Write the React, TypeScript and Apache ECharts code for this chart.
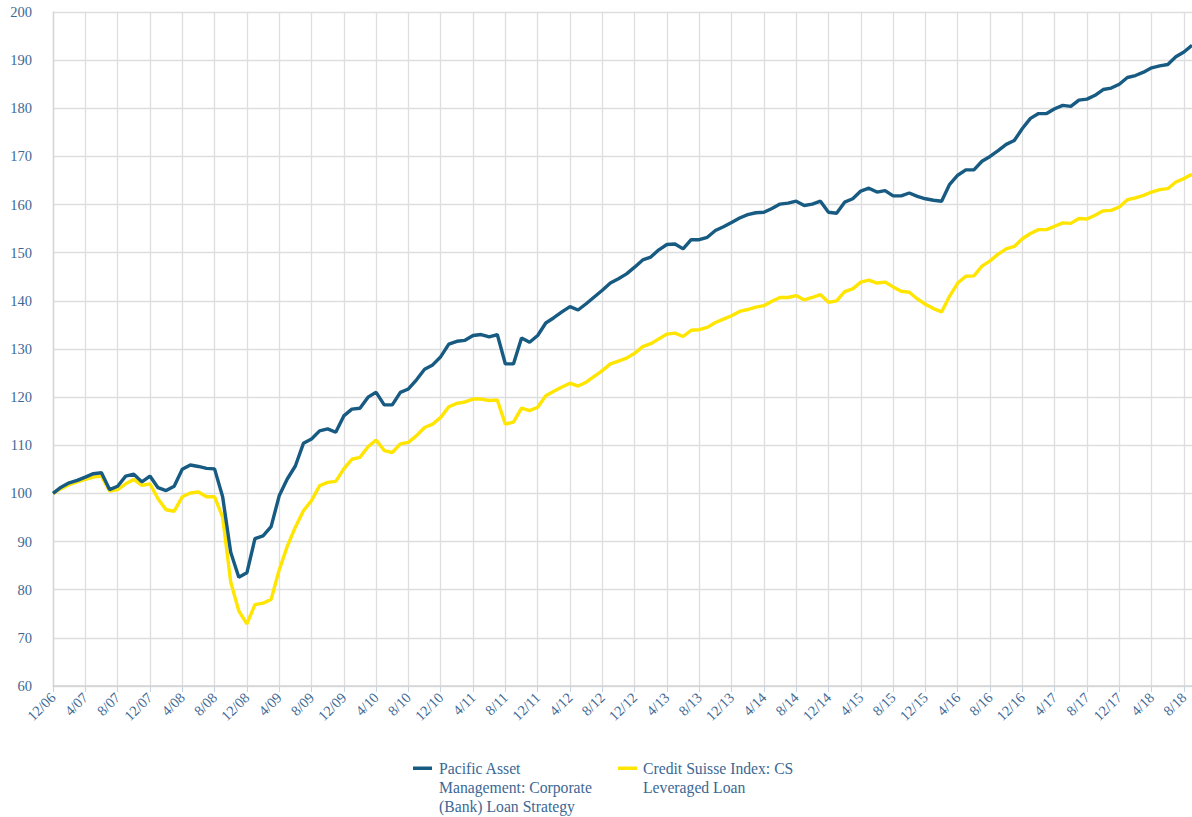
import React, { useEffect, useRef } from "react";
import * as echarts from "echarts";

// Monthly categories 12/06 .. 9/18
const START_MONTH = 12;
const START_YEAR = 6;
const MONTH_COUNT = 142;
const months: string[] = [];
for (let k = 0; k < MONTH_COUNT; k++) {
  const m = ((START_MONTH - 1 + k) % 12) + 1;
  const y = START_YEAR + Math.floor((START_MONTH - 1 + k) / 12);
  months.push(`${m}/${String(y).padStart(2, "0")}`);
}

const seriesNames = [
  "Pacific Asset Management: Corporate (Bank) Loan Strategy",
  "Credit Suisse Index: CS Leveraged Loan",
];

const pacificValues = [
  100.0, 101.3, 102.2, 102.7, 103.4, 104.1, 104.3, 100.8, 101.5, 103.6,
  104.0, 102.4, 103.6, 101.2, 100.6, 101.5, 105.0, 105.9, 105.6, 105.2,
  105.1, 99.3, 87.8, 82.6, 83.5, 90.6, 91.2, 93.1, 99.5, 103.0,
  105.7, 110.4, 111.3, 113.0, 113.4, 112.7, 116.1, 117.5, 117.7, 120.0,
  121.0, 118.4, 118.4, 121.0, 121.7, 123.6, 125.8, 126.7, 128.4, 131.0,
  131.6, 131.8, 132.8, 133.0, 132.5, 133.0, 126.9, 126.9, 132.3, 131.4,
  132.8, 135.4, 136.5, 137.7, 138.8, 138.1, 139.4, 140.8, 142.2, 143.7,
  144.6, 145.6, 147.0, 148.5, 149.1, 150.6, 151.7, 151.8, 150.8, 152.7,
  152.7, 153.2, 154.6, 155.4, 156.3, 157.2, 157.9, 158.3, 158.4, 159.2,
  160.1, 160.3, 160.7, 159.8, 160.1, 160.7, 158.4, 158.2, 160.5, 161.2,
  162.8, 163.4, 162.6, 162.9, 161.8, 161.8, 162.4, 161.7, 161.2, 160.9,
  160.7, 164.2, 166.1, 167.2, 167.2, 169.0, 170.0, 171.2, 172.5, 173.3,
  175.8, 177.9, 178.9, 178.9, 179.9, 180.6, 180.4, 181.7, 181.9, 182.7,
  183.9, 184.2, 185.0, 186.4, 186.8, 187.5, 188.4, 188.8, 189.1, 190.7,
  191.7, 193.1,
];

const creditSuisseValues = [
  100.0, 101.0, 101.8, 102.4, 102.9, 103.4, 103.6, 100.5, 100.8, 102.0,
  102.9, 101.7, 102.0, 98.9, 96.6, 96.3, 99.3, 100.1, 100.3, 99.3,
  99.3, 95.1, 81.6, 75.6, 72.9, 76.9, 77.2, 78.0, 84.1, 89.0,
  93.0, 96.4, 98.5, 101.6, 102.3, 102.5, 105.1, 107.1, 107.5, 109.7,
  111.1, 108.9, 108.5, 110.3, 110.6, 112.0, 113.7, 114.4, 115.8, 118.0,
  118.7, 119.0, 119.6, 119.6, 119.3, 119.4, 114.4, 114.8, 117.7, 117.2,
  117.9, 120.3, 121.2, 122.1, 122.9, 122.3, 123.1, 124.3, 125.5, 126.9,
  127.5, 128.1, 129.1, 130.5, 131.1, 132.1, 133.1, 133.3, 132.6, 133.9,
  134.0, 134.5, 135.5, 136.2, 136.9, 137.8, 138.2, 138.7, 139.0, 139.9,
  140.7, 140.7, 141.1, 140.2, 140.7, 141.3, 139.7, 140.0, 141.9, 142.5,
  143.9, 144.3, 143.7, 143.9, 142.9, 142.0, 141.8, 140.4, 139.3, 138.4,
  137.7, 141.0, 143.7, 145.1, 145.2, 147.2, 148.3, 149.7, 150.8, 151.3,
  152.9, 154.0, 154.8, 154.8, 155.5, 156.2, 156.1, 157.1, 157.0, 157.8,
  158.7, 158.8, 159.5, 161.0, 161.4, 161.9, 162.6, 163.1, 163.3, 164.7,
  165.4, 166.3,
];

const legendLines = [
  "Pacific Asset\nManagement: Corporate\n(Bank) Loan Strategy",
  "Credit Suisse Index: CS\nLeveraged Loan",
];

const BLUE = "#175a82";
const YELLOW = "#ffe500";
const TEXT = "#3c6894";
const GRID = "#dedede";
const FONT = "Liberation Serif";

export default function App() {
  const ref = useRef<HTMLDivElement>(null);
  useEffect(() => {
    if (!ref.current) return;
    const chart = echarts.init(ref.current, undefined, { renderer: "svg" });
    chart.setOption({
      animation: false,
      backgroundColor: "#ffffff",
      textStyle: { fontFamily: FONT },
      grid: { left: 53, right: -2, top: 12, bottom: 131, containLabel: false },
      xAxis: {
        type: "category",
        data: months,
        boundaryGap: false,
        axisLine: { show: true, lineStyle: { color: "#d4d4d4", width: 1.5 } },
        axisTick: {
          show: true,
          interval: 3,
          length: 6,
          lineStyle: { color: "#c6d3e0" },
        },
        axisLabel: {
          interval: 3,
          rotate: 45,
          margin: 9,
          color: TEXT,
          fontSize: 14.5,
          fontFamily: FONT,
        },
        splitLine: {
          show: true,
          interval: 3,
          lineStyle: { color: GRID, width: 1.3 },
        },
      },
      yAxis: {
        type: "value",
        min: 60,
        max: 200,
        interval: 10,
        axisLine: { show: true, lineStyle: { color: "#d4d4d4", width: 1.3 } },
        axisTick: { show: false },
        axisLabel: {
          color: TEXT,
          fontSize: 14.5,
          fontFamily: FONT,
          margin: 21,
        },
        splitLine: { show: true, lineStyle: { color: GRID, width: 1.3 } },
      },
      series: [
        {
          name: seriesNames[0],
          type: "line",
          data: pacificValues,
          showSymbol: false,
          symbol: "none",
          lineStyle: { color: BLUE, width: 3.4 },
          itemStyle: { color: BLUE },
          z: 3,
        },
        {
          name: seriesNames[1],
          type: "line",
          data: creditSuisseValues,
          showSymbol: false,
          symbol: "none",
          lineStyle: { color: YELLOW, width: 3.4 },
          itemStyle: { color: YELLOW },
          z: 2,
        },
      ],
      graphic: [
        {
          type: "rect",
          shape: { x: 413, y: 766.5, width: 19, height: 3.5 },
          style: { fill: BLUE },
        },
        {
          type: "text",
          x: 439,
          y: 758.5,
          style: {
            text: legendLines[0],
            fontSize: 15.7,
            fontFamily: FONT,
            lineHeight: 19.2,
            fill: TEXT,
            verticalAlign: "top",
            align: "left",
          },
        },
        {
          type: "rect",
          shape: { x: 618, y: 766.5, width: 19, height: 3.5 },
          style: { fill: YELLOW },
        },
        {
          type: "text",
          x: 643,
          y: 758.5,
          style: {
            text: legendLines[1],
            fontSize: 15.7,
            fontFamily: FONT,
            lineHeight: 19.2,
            fill: TEXT,
            verticalAlign: "top",
            align: "left",
          },
        },
      ],
    });
    return () => chart.dispose();
  }, []);
  return (
    <div
      ref={ref}
      style={{
        position: "fixed",
        left: 0,
        top: 0,
        width: 1192,
        height: 817,
        background: "#fff",
      }}
    />
  );
}
